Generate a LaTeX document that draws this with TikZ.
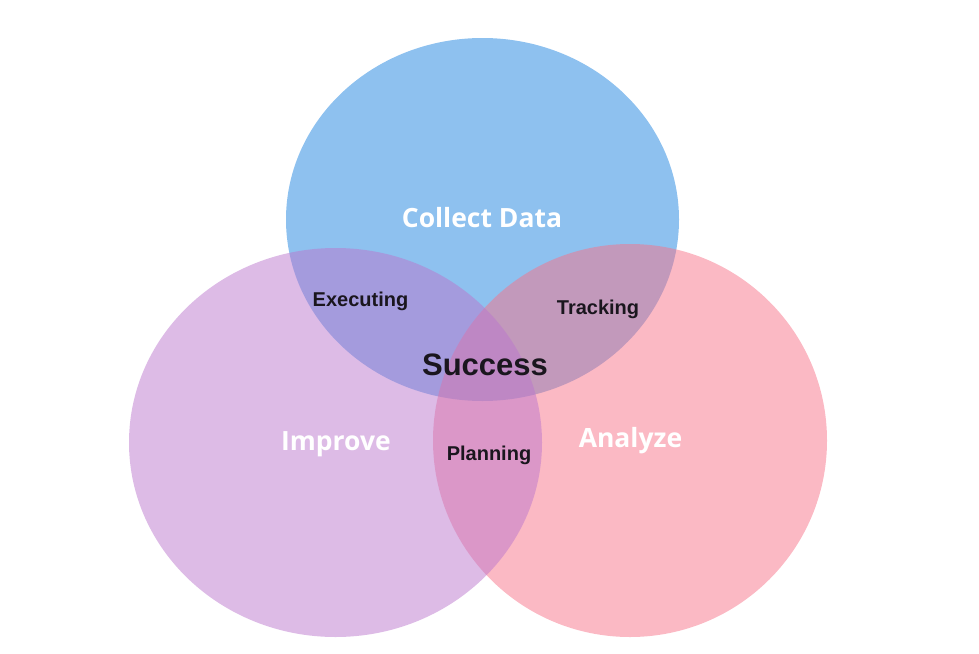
\documentclass[tikz,border=0pt]{standalone}
\usepackage{fontspec}
\newfontfamily\opensans{Open Sans}
\newfontfamily\libsans{Liberation Sans}
\usetikzlibrary{shapes.geometric}
\definecolor{cblue}{RGB}{142,193,239}
\definecolor{cpink}{RGB}{247,115,137}
\definecolor{cpurple}{RGB}{187,119,205}
\definecolor{ctext}{RGB}{26,22,30}
\tikzset{
  blob/.style={ellipse, draw=none, inner sep=0pt},
  bigword/.style={anchor=base, text=white, font=\opensans\bfseries\fontsize{26.5}{30}\selectfont},
  smallword/.style={anchor=base, text=ctext, font=\libsans\bfseries\fontsize{20}{24}\selectfont},
  centerword/.style={anchor=base, text=ctext, font=\libsans\bfseries\fontsize{31}{36}\selectfont}
}
\begin{document}
\begin{tikzpicture}[x=1pt,y=-1pt]
\useasboundingbox (0,0) rectangle (979,653);
\node[blob, fill=cblue, minimum width=393pt, minimum height=363pt] (collect) at (482.5,219.5) {};
\node[blob, fill=cpink, fill opacity=0.5, minimum width=394pt, minimum height=393pt] (analyze) at (630,440.5) {};
\node[blob, fill=cpurple, fill opacity=0.5, minimum width=413pt, minimum height=389pt] (improve) at (335.5,442.5) {};
\node[bigword] (tcollect) at (482,227.5) {Collect Data};
\node[bigword] (timprove) at (336,450) {Improve};
\node[bigword] (tanalyze) at (630.5,447) {Analyze};
\node[smallword] (texec) at (360.5,306) {Executing};
\node[smallword] (ttrack) at (598,314.3) {Tracking};
\node[smallword] (tplan) at (489,460) {Planning};
\node[centerword] (tsucc) at (485,375.7) {Success};
\end{tikzpicture}
\end{document}
